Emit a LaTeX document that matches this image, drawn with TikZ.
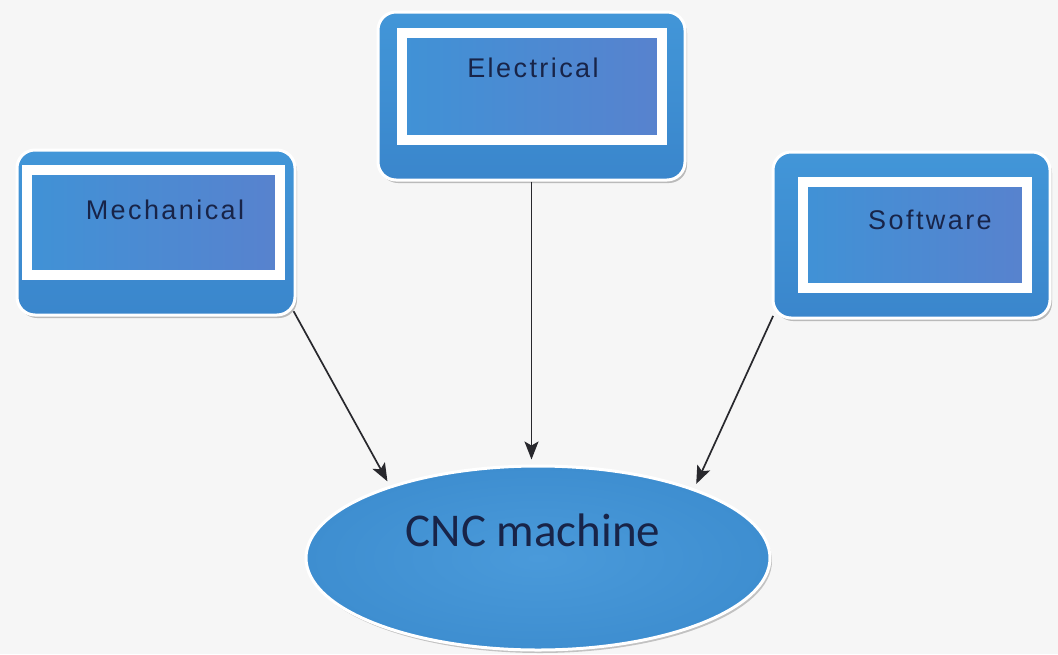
\documentclass[tikz,border=0pt]{standalone}
\usepackage{fontspec}
\setmainfont{Liberation Sans}
\newfontfamily\boxfont[LetterSpace=9]{Liberation Sans}
\newfontfamily\cncfont{Carlito}
\usetikzlibrary{arrows.meta,shapes.geometric,shadows}

\definecolor{pagebg}{RGB}{246,246,246}
\definecolor{boxtop}{RGB}{66,150,216}
\definecolor{boxbot}{RGB}{58,134,204}
\definecolor{innerL}{RGB}{64,146,214}
\definecolor{innerR}{RGB}{88,130,206}
\definecolor{ovalin}{RGB}{74,154,218}
\definecolor{ovalout}{RGB}{62,142,208}
\definecolor{labelink}{RGB}{24,36,72}
\definecolor{arrowink}{RGB}{40,40,45}

\begin{document}
\begin{tikzpicture}[x=1pt,y=-1pt,
  outerbox/.style={rectangle, rounded corners=18pt, draw=white, line width=3pt,
    top color=boxtop, bottom color=boxbot, inner sep=0pt,
    drop shadow={shadow xshift=2pt, shadow yshift=-3pt, opacity=0.35, fill=black!70}},
  innerframe/.style={rectangle, draw=white, line width=10pt,
    left color=innerL, right color=innerR, inner sep=0pt},
  lbl/.style={font=\boxfont\fontsize{27}{32}\selectfont, text=labelink, inner sep=0pt},
  oval/.style={ellipse, draw=white, line width=3pt, inner sep=0pt,
    inner color=ovalin, outer color=ovalout,
    drop shadow={shadow xshift=2pt, shadow yshift=-3pt, opacity=0.3, fill=black!70}},
  ovallbl/.style={font=\cncfont\fontsize{47}{52}\selectfont, text=labelink, inner sep=0pt},
  link/.style={draw=arrowink, line width=1.7pt,
    -{Stealth[length=18pt,width=14pt,inset=4pt]}}]

% page
\fill[pagebg] (0,0) rectangle (1058,654);
\useasboundingbox (0,0) rectangle (1058,654);

% source blocks
\node[outerbox, minimum width=278pt, minimum height=165pt] (mech) at (156,232.5) {};
\node[innerframe, minimum width=253pt, minimum height=105pt] (mechin) at (153.5,222.5) {};
\node[lbl] (mechtxt) at (165,210) {Mechanical};

\node[outerbox, minimum width=307pt, minimum height=168pt] (elec) at (531.5,96) {};
\node[innerframe, minimum width=260pt, minimum height=107pt] (elecin) at (532,86.5) {};
\node[lbl] (electxt) at (533,68) {Electrical};

\node[outerbox, minimum width=277pt, minimum height=166pt] (soft) at (911.5,235) {};
\node[innerframe, minimum width=224pt, minimum height=106pt] (softin) at (915,235) {};
\node[lbl] (softtxt) at (930,220) {Software};

% target
\node[oval, minimum width=464pt, minimum height=184pt] (cnc) at (538,558) {};
\node[ovallbl] (cnctxt) at (533,530) {CNC machine};

% connectors
\draw[link, shorten <=-6pt, shorten >=5pt] (mech.south east) -- (cnc.154);
\draw[link, shorten >=5pt] (elec.south) -- (elec.south |- cnc.north);
\draw[link, shorten <=-4pt, shorten >=5pt] (soft.south west) -- (cnc.24);
\end{tikzpicture}
\end{document}
